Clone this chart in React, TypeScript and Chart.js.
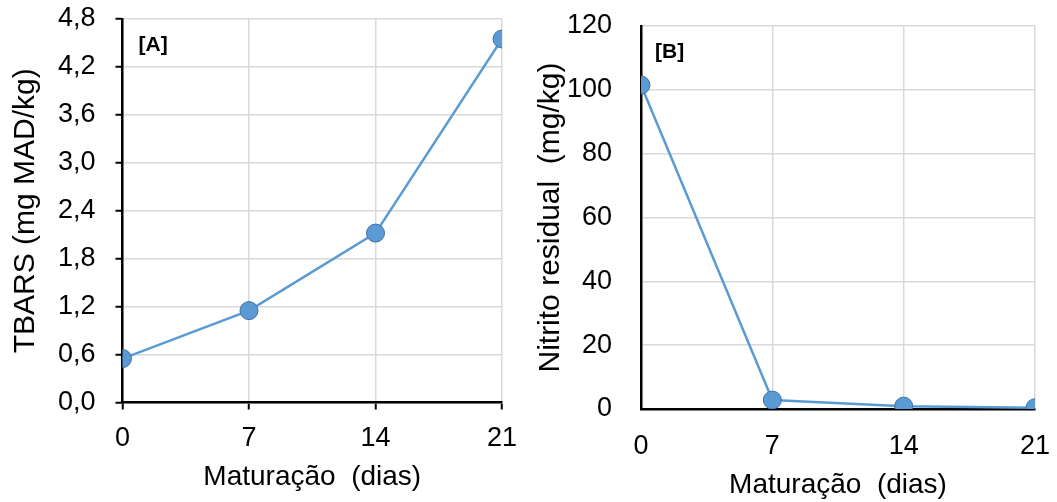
import React, { useEffect, useRef } from "react";
import { Chart, registerables } from "chart.js";

Chart.register(...registerables);

const days = [0, 7, 14, 21];
const tbarsValues = [0.55, 1.15, 2.12, 4.55];
const nitritoValues = [101.5, 2.8, 0.9, 0.4];

const xTitle = "Maturação  (dias)";
const yTitleA = "TBARS (mg MAD/kg)";
const yTitleB = "Nitrito residual  (mg/kg)";
const panelA = "[A]";
const panelB = "[B]";

const FONT = "'Liberation Sans', Arial, sans-serif";
const LINE = "#5B9BD5";
const POINT_BORDER = "#41719C";
const GRID = "#d9d9d9";

type Cfg = {
  values: number[];
  yMax: number;
  yStep: number;
  yFmt: (v: number) => string;
  yTitle: string;
  panel: string;
  padding: { left: number; top: number; right: number; bottom: number };
  yWidth: number;
  xHeight: number;
  yTickPad: number;
  xTickPad: number;
  yTitlePad: number;
  xTitlePad: number;
  showTicks: boolean;
  panelDx: number;
  panelDy: number;
};

function makeChart(canvas: HTMLCanvasElement, c: Cfg) {
  const tickColor = c.showTicks ? "#000" : "rgba(0,0,0,0)";
  const panelPlugin = {
    id: "panelLabel",
    afterDraw(chart: any) {
      const ctx = chart.ctx;
      const area = chart.chartArea;
      ctx.save();
      ctx.font = `bold 21px ${FONT}`;
      ctx.fillStyle = "#000";
      ctx.textAlign = "left";
      ctx.textBaseline = "middle";
      ctx.fillText(c.panel, area.left + c.panelDx, area.top + c.panelDy);
      ctx.restore();
    },
  };
  return new Chart(canvas, {
    type: "line",
    data: {
      datasets: [
        {
          data: days.map((d, i) => ({ x: d, y: c.values[i] })),
          borderColor: LINE,
          borderWidth: 2.5,
          backgroundColor: LINE,
          pointBackgroundColor: LINE,
          pointBorderColor: POINT_BORDER,
          pointBorderWidth: 1,
          pointRadius: 9,
          tension: 0,
          fill: false,
        },
      ],
    },
    options: {
      animation: false,
      responsive: false,
      layout: { padding: c.padding },
      plugins: { legend: { display: false }, tooltip: { enabled: false } },
      scales: {
        x: {
          type: "linear",
          min: 0,
          max: 21,
          afterFit: (s: any) => {
            s.height = c.xHeight;
            s.paddingLeft = 0;
            s.paddingRight = 0;
          },
          ticks: {
            stepSize: 7,
            padding: c.xTickPad,
            color: "#000",
            font: { family: FONT, size: 27 },
            maxRotation: 0,
          },
          grid: {
            color: GRID,
            lineWidth: 1.5,
            tickLength: 7,
            tickColor: tickColor,
            tickWidth: 2,
          },
          border: { color: "#000", width: 2.5 },
          title: {
            display: true,
            text: xTitle,
            color: "#000",
            font: { family: FONT, size: 28 },
            padding: { top: 0, bottom: c.xTitlePad },
          },
        },
        y: {
          type: "linear",
          min: 0,
          max: c.yMax,
          afterFit: (s: any) => {
            s.width = c.yWidth;
            s.paddingTop = 0;
            s.paddingBottom = 0;
          },
          ticks: {
            stepSize: c.yStep,
            padding: c.yTickPad,
            color: "#000",
            font: { family: FONT, size: 27 },
            callback: (v: any) => c.yFmt(Number(v)),
          },
          grid: {
            color: GRID,
            lineWidth: 1.5,
            tickLength: 7,
            tickColor: tickColor,
            tickWidth: 2,
          },
          border: { color: "#000", width: 2.5 },
          title: {
            display: true,
            text: c.yTitle,
            color: "#000",
            font: { family: FONT, size: 30 },
            padding: { top: c.yTitlePad, bottom: 0 },
          },
        },
      },
    },
    plugins: [panelPlugin],
  } as any);
}

export default function App() {
  const refA = useRef<HTMLCanvasElement>(null);
  const refB = useRef<HTMLCanvasElement>(null);

  useEffect(() => {
    const a = makeChart(refA.current!, {
      values: tbarsValues,
      yMax: 4.8,
      yStep: 0.6,
      yFmt: (v) => v.toFixed(1).replace(".", ","),
      yTitle: yTitleA,
      panel: panelA,
      padding: { left: 0, top: 19, right: 28, bottom: 0 },
      yWidth: 122.5,
      xHeight: 99.5,
      yTickPad: 20,
      xTickPad: 13,
      yTitlePad: 8,
      xTitlePad: 8,
      showTicks: true,
      panelDx: 16,
      panelDy: 26,
    });
    const b = makeChart(refB.current!, {
      values: nitritoValues,
      yMax: 120,
      yStep: 20,
      yFmt: (v) => String(Math.round(v)),
      yTitle: yTitleB,
      panel: panelB,
      padding: { left: 0, top: 26, right: 22, bottom: 0 },
      yWidth: 111,
      xHeight: 93,
      yTickPad: 22,
      xTickPad: 14,
      yTitlePad: 3,
      xTitlePad: 0,
      showTicks: false,
      panelDx: 14,
      panelDy: 26,
    });
    return () => {
      a.destroy();
      b.destroy();
    };
  }, []);

  return (
    <div style={{ position: "absolute", left: 0, top: 0, width: 1057, height: 502, background: "#fff" }}>
      <canvas ref={refA} width={530} height={502} style={{ position: "absolute", left: 0, top: 0 }} />
      <canvas ref={refB} width={527} height={502} style={{ position: "absolute", left: 530, top: 0 }} />
    </div>
  );
}
